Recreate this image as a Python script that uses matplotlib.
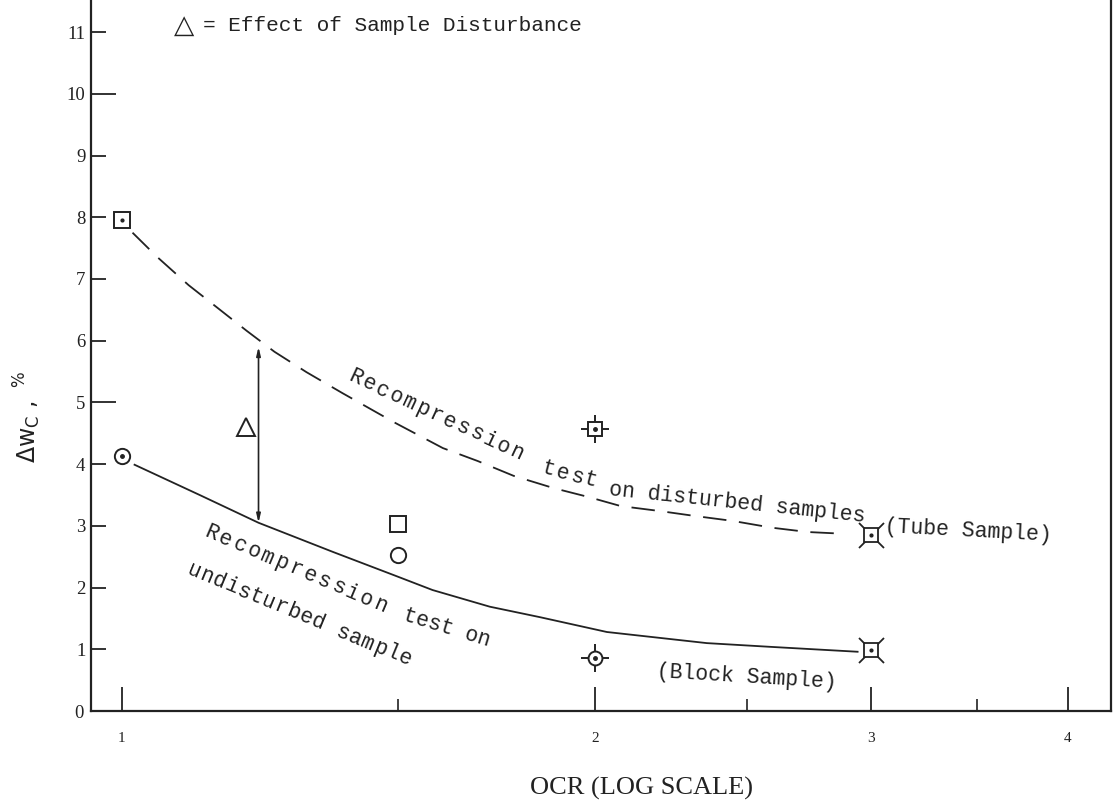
import math
import matplotlib
matplotlib.use("Agg")
import matplotlib.pyplot as plt
from matplotlib.ticker import FixedLocator, FixedFormatter, NullFormatter

# ---------------- data ----------------
# dashed curve: recompression test on disturbed (tube) samples
tube_ocr = [1.016, 1.053, 1.103, 1.151, 1.201, 1.251, 1.311, 1.382, 1.49,
            1.601, 1.685, 1.776, 1.884, 1.980, 2.078, 2.200, 2.316, 2.448,
            2.593, 2.733, 2.890]
tube_dwc = [7.75, 7.36, 6.90, 6.53, 6.16, 5.82, 5.49, 5.15, 4.68,
            4.26, 4.05, 3.81, 3.61, 3.47, 3.32, 3.24, 3.16, 3.08,
            2.97, 2.90, 2.87]
# solid curve: recompression test on undisturbed (block) sample
block_ocr = [1.019, 1.121, 1.222, 1.362, 1.494, 1.577, 1.715, 1.846, 2.036,
             2.357, 2.585, 2.94]
block_dwc = [3.99, 3.50, 3.05, 2.58, 2.19, 1.96, 1.69, 1.52, 1.28,
             1.10, 1.04, 0.96]

# plotted symbols
sq_dot = ([1.0], [7.96])
ci_dot = ([1.0], [4.13])
sq_open = ([1.5], [3.03])
ci_open = ([1.5], [2.53])
sq_cross = ([2.0], [4.57])
ci_cross = ([2.0], [0.86])
sq_x = ([3.0], [2.85])
ci_x = ([3.0], [0.99])
tri = ([1.2], [4.6])
arrow_x = 1.222
arrow_top, arrow_bot = 5.9, 3.05

xmajor = [1, 2, 3, 4]
xmajor_labels = ["1", "2", "3", "4"]
xminor = [1.5, 2.5, 3.5]
ymajor = [5, 10]
yminor = [1, 2, 3, 4, 6, 7, 8, 9, 11]

MONO = ["Liberation Mono", "DejaVu Sans Mono"]
SERIF = ["Liberation Serif", "DejaVu Serif"]
K = "#222222"

fig = plt.figure(figsize=(11.14, 8.0), dpi=100)
ax = fig.add_axes([91 / 1114, 89 / 800, (1111 - 91) / 1114, 711 / 800])
ax.set_xscale("log")
ax.set_xlim(0.956, 4.262)
ax.set_ylim(0, 11.52)

ax.spines["top"].set_visible(False)
for s in ("left", "bottom", "right"):
    ax.spines[s].set_linewidth(1.6)
    ax.spines[s].set_color(K)

# x ticks
ax.xaxis.set_major_locator(FixedLocator(xmajor))
ax.xaxis.set_major_formatter(FixedFormatter(xmajor_labels))
ax.xaxis.set_minor_locator(FixedLocator(xminor))
ax.xaxis.set_minor_formatter(NullFormatter())
ax.tick_params(axis="x", which="major", direction="in", length=17, width=1.3,
               pad=15, labelsize=11, colors=K)
ax.tick_params(axis="x", which="minor", direction="in", length=9, width=1.2,
               colors=K)
for lab in ax.get_xticklabels():
    lab.set_family(SERIF)

# y ticks
ax.yaxis.set_major_locator(FixedLocator(ymajor))
ax.yaxis.set_major_formatter(FixedFormatter([str(v) for v in ymajor]))
ax.yaxis.set_minor_locator(FixedLocator(yminor))
ax.yaxis.set_minor_formatter(FixedFormatter([str(v) for v in yminor]))
ax.tick_params(axis="y", which="both", direction="in", width=1.3, pad=4,
               labelsize=13.5, colors=K)
ax.tick_params(axis="y", which="major", length=18)
ax.tick_params(axis="y", which="minor", length=11)
for lab in ax.get_yticklabels(which="both"):
    lab.set_family(SERIF)
fig.text(84 / 1114, 1 - 713 / 800, "0", family=SERIF, fontsize=13.5,
         ha="right", va="center", color=K)

# curves
ln, = ax.plot(tube_ocr, tube_dwc, color=K, lw=1.3)
ln.set_dashes((13, 7))
ax.plot(block_ocr, block_dwc, color=K, lw=1.3)

ms = 11
ax.plot(*sq_dot, marker="s", ms=ms, mfc="white", mec=K, mew=1.4, ls="none", zorder=5)
ax.plot(*sq_dot, marker=".", ms=4, color=K, ls="none", zorder=6)
ax.plot(*ci_dot, marker="o", ms=ms, mfc="white", mec=K, mew=1.4, ls="none", zorder=5)
ax.plot(*ci_dot, marker=".", ms=5, color=K, ls="none", zorder=6)
ax.plot(*sq_open, marker="s", ms=ms, mfc="none", mec=K, mew=1.4, ls="none", zorder=5)
ax.plot(*ci_open, marker="o", ms=ms, mfc="none", mec=K, mew=1.4, ls="none", zorder=5)
for (xx, yy), m in ((sq_cross, "s"), (ci_cross, "o")):
    ax.plot(xx, yy, marker="+", ms=20, mew=1.4, color=K, ls="none", zorder=5)
    ax.plot(xx, yy, marker=m, ms=10, mfc="white", mec=K, mew=1.4, ls="none", zorder=6)
    ax.plot(xx, yy, marker=".", ms=5, color=K, ls="none", zorder=7)
for (xx, yy), m in ((sq_x, "s"), (ci_x, "s")):
    ax.plot(xx, yy, marker="x", ms=18, mew=1.3, color=K, ls="none", zorder=5)
    ax.plot(xx, yy, marker=m, ms=10, mfc="white", mec=K, mew=1.3, ls="none", zorder=6)
    ax.plot(xx, yy, marker=".", ms=4, color=K, ls="none", zorder=7)
ax.plot(*tri, marker="^", ms=13, mfc="none", mec=K, mew=1.4, ls="none", zorder=5)

ax.annotate("", xy=(arrow_x, arrow_top), xytext=(arrow_x, arrow_bot),
            arrowprops=dict(arrowstyle="<|-|>,head_length=0.5,head_width=0.12",
                            color=K, lw=1.2, shrinkA=0, shrinkB=0))


# ---------------- texts (pixel coords measured from the top-left) ----------------
def ftext(px, py, s, rot=0, size=15.5, family=MONO, **kw):
    fig.text(px / 1114, 1 - py / 800, s, rotation=rot, rotation_mode="anchor",
             ha="left", va="baseline", fontsize=size, family=family,
             color=K, **kw)


def spaced(px, py, s, rot, pitch, size=15.5):
    """typewriter text laid out character by character with a given pitch"""
    a = math.radians(rot)
    for i, ch in enumerate(s):
        if ch == " ":
            continue
        ftext(px + i * pitch * math.cos(a), py - i * pitch * math.sin(a), ch,
              rot=rot, size=size)


ftext(174, 33, "\u25b3", size=19, family=["DejaVu Sans"])
ftext(203, 31, "= Effect of Sample Disturbance", size=15.2)

spaced(347, 380, "Recompression", -25, 14.8)
spaced(541, 473, "test", -15, 14.5)
ftext(609, 495, "on disturbed samples", rot=-6)
ftext(884, 532, "(Tube Sample)", rot=-3)

spaced(203, 536, "Recompression", -23, 15.3)
ftext(402, 620, "test on", rot=-17)
spaced(186, 574, "undisturbed sample", -22.5, 13.4)
ftext(656, 677, "(Block Sample)", rot=-3.5)

fig.text(642 / 1114, 1 - 788 / 800, "OCR (LOG SCALE)", family=SERIF, fontsize=19,
         ha="center", va="center", color=K)
fig.text(27 / 1114, 1 - 417 / 800,
         r"$\Delta\mathrm{w}_{\mathrm{C}}\ ,\ ^{\%}$", family=["DejaVu Sans"],
         fontsize=17, rotation=90, ha="center", va="center", color=K)

fig.savefig("out.png", dpi=100)
